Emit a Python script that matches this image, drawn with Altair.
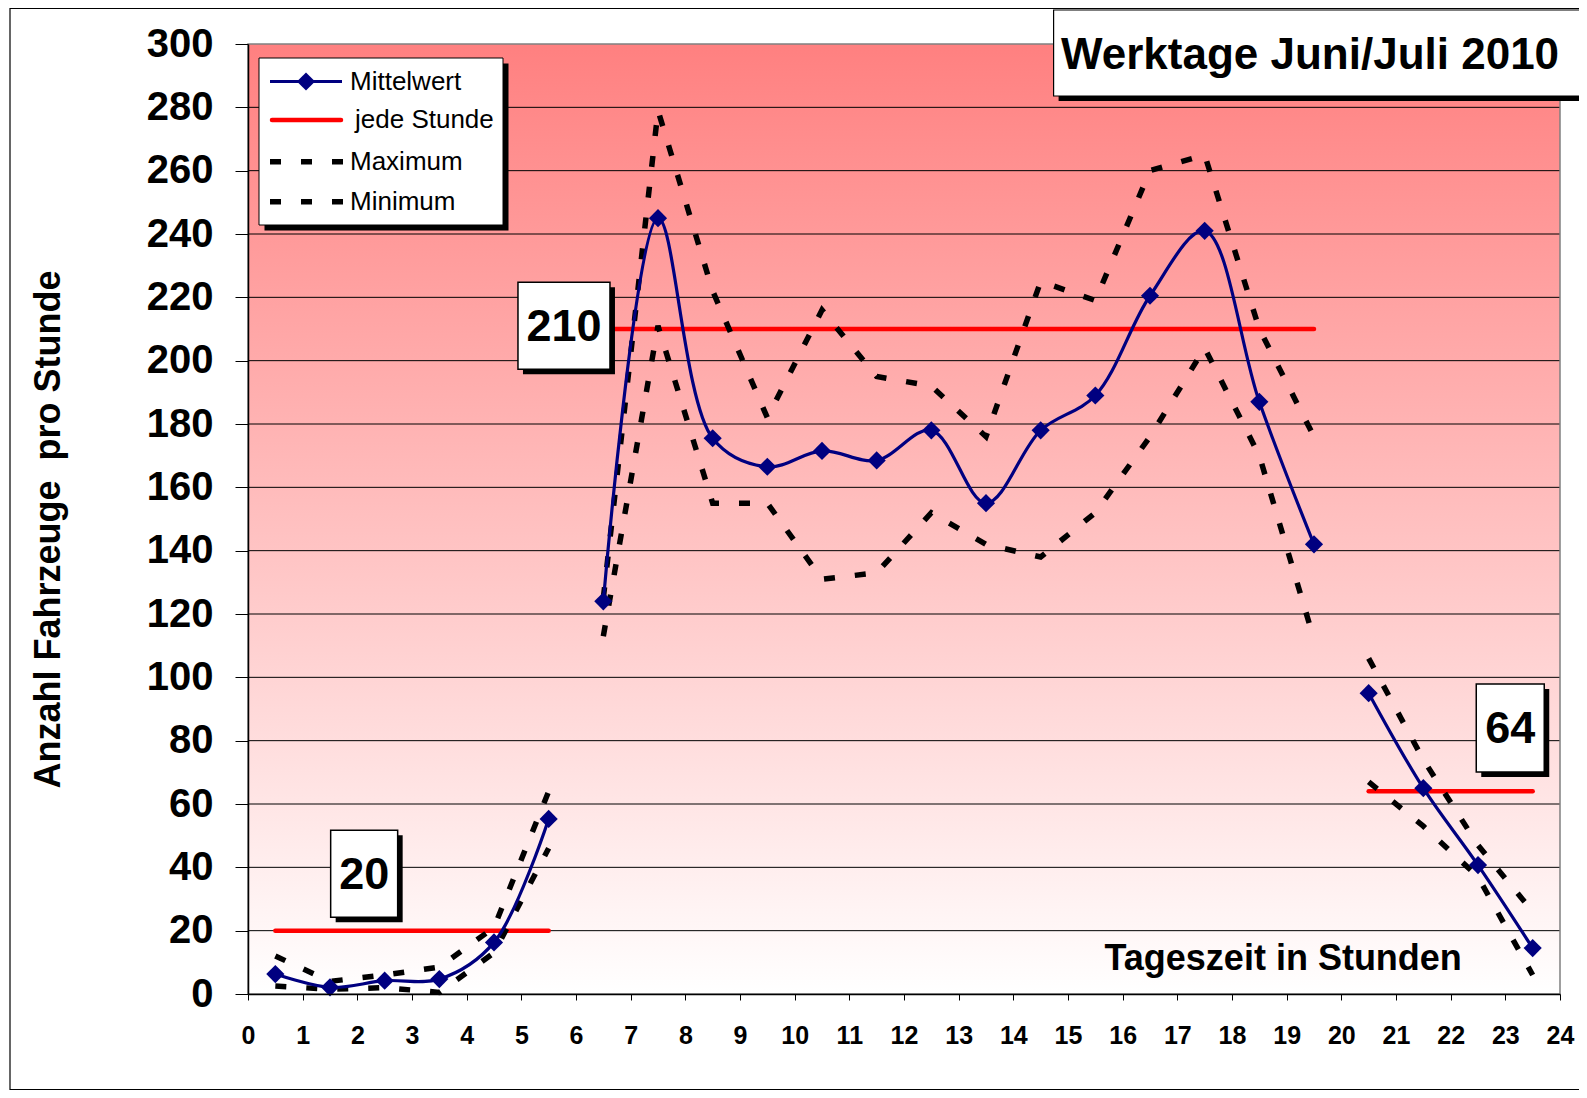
import altair as alt
import pandas as pd

# ---------------- data ----------------
hours = [0.5, 1.5, 2.5, 3.5, 4.5, 5.5, 6.5, 7.5, 8.5, 9.5, 10.5, 11.5,
         12.5, 13.5, 14.5, 15.5, 16.5, 17.5, 18.5, 19.5, 20.5, 21.5, 22.5, 23.5]
segments = [1, 1, 1, 1, 1, 1,
            2, 2, 2, 2, 2, 2, 2, 2, 2, 2, 2, 2, 2, 2,
            3, 3, 3, 3]
mean_values = [6.3, 2.1, 4.2, 4.7, 16.3, 55.3, 124, 245, 175.5, 166.5, 171.5, 168.5,
               178, 155, 178, 189, 220.5, 241, 187, 142, 95, 65, 40.7, 14.5]
max_values = [12, 4, 6, 8.5, 21, 64, 125, 279, 222, 182, 216, 195,
              192, 176, 225, 219, 260, 265, 210, 176, 106, 74, 47, 26]
min_values = [2.5, 1.5, 2, 0.5, 13, 46, 113, 211, 155, 155, 131, 133,
              152, 142, 138, 152, 176, 204, 170, 112, 67, 53, 37, 6]

avg_values = [20, 210, 64]
avg_start = [0.5, 6.5, 20.5]
avg_end = [5.5, 19.5, 23.5]
label_hours = [2.125, 5.78, 23.09]
label_values = [38, 211, 84]

y_ticks = [0, 20, 40, 60, 80, 100, 120, 140, 160, 180, 200, 220, 240, 260, 280, 300]
x_ticks = [0, 1, 2, 3, 4, 5, 6, 7, 8, 9, 10, 11, 12, 13, 14, 15, 16, 17, 18, 19, 20, 21, 22, 23, 24]
legend_labels = ["Mittelwert", "jede Stunde", "Maximum", "Minimum"]
title_text = "Werktage Juni/Juli 2010"
x_title = "Tageszeit in Stunden"
y_title = "Anzahl Fahrzeuge\u00a0 pro Stunde"

# ---------------- styling / layout ----------------
W, H = 1312, 950
FONT = "Liberation Sans"
NAVY = "#000080"
RED = "#FF0000"
DASH = [11, 20]
DIAMOND = 330
MEAN_W = 3.2

df = pd.DataFrame({"hour": hours, "seg": segments, "mean": mean_values,
                   "max": max_values, "min": min_values})
avg_df = pd.DataFrame({"start": avg_start, "end": avg_end, "v": avg_values})
grid_df = pd.DataFrame({"v": y_ticks[1:-1]})
one = pd.DataFrame({"k": [0]})

xs = alt.Scale(domain=[0, 24], nice=False, zero=False)
ys = alt.Scale(domain=[0, 300], nice=False)

x_axis = alt.Axis(values=x_ticks, title=x_title, grid=False, zindex=1,
                  labelFont=FONT, labelFontSize=25, labelFontWeight="bold", labelColor="black",
                  labelPadding=23, labelFlush=False, labelOverlap=False,
                  tickSize=6, tickColor="black", domainColor="black", domainWidth=1.5,
                  titleFont=FONT, titleFontSize=36, titleFontWeight="bold", titleColor="black",
                  titleX=856, titleY=-25, titleAlign="left", titleBaseline="alphabetic")
y_axis = alt.Axis(values=y_ticks, title=y_title, grid=False, zindex=1,
                  labelFont=FONT, labelFontSize=40, labelFontWeight="bold", labelColor="black",
                  labelPadding=22, labelFlush=False, labelOverlap=False,
                  tickSize=13, tickColor="black", domainColor="black", domainWidth=1.5,
                  titleFont=FONT, titleFontSize=36, titleFontWeight="bold", titleColor="black",
                  titleX=-200, titleY=485, titleAngle=270, titleAlign="center",
                  titleBaseline="middle")


def X(field):
    return alt.X(f"{field}:Q", scale=xs, axis=x_axis)


def Y(field):
    return alt.Y(f"{field}:Q", scale=ys, axis=y_axis)


def box(x1, x2, y1, y2, fill, stroke=None, sw=0):
    kw = dict(fill=fill, opacity=1)
    if stroke:
        kw.update(stroke=stroke, strokeWidth=sw)
    else:
        kw.update(strokeWidth=0)
    return alt.Chart(one).mark_rect(**kw).encode(
        x=alt.value(x1), x2=alt.value(x2), y=alt.value(y1), y2=alt.value(y2))


layers = []

# outer frame
layers.append(alt.Chart(one).mark_rect(fill="white", fillOpacity=0, stroke="black", strokeWidth=1.2).encode(
    x=alt.value(-238), x2=alt.value(1345), y=alt.value(-35.5), y2=alt.value(1045.5)))

# gradient plot background
grad = alt.LinearGradient(gradient="linear",
                          stops=[alt.GradientStop(color="#FF8080", offset=0),
                                 alt.GradientStop(color="#FFFFFF", offset=1)],
                          x1=0, x2=0, y1=0, y2=1)
layers.append(alt.Chart(one).mark_rect(fill=grad, strokeWidth=0).encode(
    x=alt.value(0), x2=alt.value(W), y=alt.value(0), y2=alt.value(H)))

# gridlines
layers.append(alt.Chart(grid_df).mark_rule(color="black", strokeWidth=1).encode(y=Y("v")))

# plot border
layers.append(alt.Chart(one).mark_rect(fill="white", fillOpacity=0, stroke="#808080", strokeWidth=1.5).encode(
    x=alt.value(0), x2=alt.value(W), y=alt.value(0), y2=alt.value(H)))

# hourly averages (red)
layers.append(alt.Chart(avg_df).mark_rule(color=RED, strokeWidth=4.5, strokeCap="round").encode(
    x=X("start"), x2="end:Q", y=Y("v")))

# maximum / minimum dotted lines
for col in ["max", "min"]:
    layers.append(alt.Chart(df).mark_line(color="black", strokeWidth=5.5, strokeDash=DASH).encode(
        x=X("hour"), y=Y(col), detail="seg:N"))

# mean line and diamonds
layers.append(alt.Chart(df).mark_line(color=NAVY, strokeWidth=MEAN_W, interpolate="catmull-rom").encode(
    x=X("hour"), y=Y("mean"), detail="seg:N"))
layers.append(alt.Chart(df).mark_point(shape="diamond", filled=True, size=DIAMOND, color=NAVY, opacity=1).encode(
    x=X("hour"), y=Y("mean")))

# value label boxes
box_sizes = [(67, 87), (92, 87), (68, 88)]
for i in range(3):
    d = pd.DataFrame({"hour": [label_hours[i]], "value": [label_values[i]],
                      "label": [str(avg_values[i])]})
    w, h = box_sizes[i]
    side = max(w, h)
    a, b = w / side, h / side
    path = f"M{-a:.4f},{-b:.4f}H{a:.4f}V{b:.4f}H{-a:.4f}Z"
    layers.append(alt.Chart(d).mark_point(shape=path, size=side * side, filled=True, fill="black",
                                          opacity=1, strokeWidth=0, xOffset=5, yOffset=5).encode(
        x=X("hour"), y=Y("value")))
    layers.append(alt.Chart(d).mark_point(shape=path, size=side * side, filled=True, fill="white",
                                          stroke="black", strokeWidth=1.5, opacity=1).encode(
        x=X("hour"), y=Y("value")))
    layers.append(alt.Chart(d).mark_text(font=FONT, fontSize=45, fontWeight="bold", color="black",
                                         align="center", baseline="middle", dy=1).encode(
        x=X("hour"), y=Y("value"), text="label:N"))

# legend
layers.append(box(16.5, 260.5, 19.5, 186.5, "black"))
layers.append(box(11, 255, 14, 181, "white", "black", 1))
row_y = [37.5, 76, 117.7, 157.7]
layers.append(alt.Chart(one).mark_rule(color=NAVY, strokeWidth=MEAN_W).encode(
    x=alt.value(22), x2=alt.value(94), y=alt.value(row_y[0])))
layers.append(alt.Chart(one).mark_point(shape="diamond", filled=True, size=DIAMOND, color=NAVY, opacity=1).encode(
    x=alt.value(58), y=alt.value(row_y[0])))
layers.append(alt.Chart(one).mark_rule(color=RED, strokeWidth=4.5, strokeCap="round").encode(
    x=alt.value(24), x2=alt.value(93), y=alt.value(row_y[1])))
for ry in row_y[2:]:
    layers.append(alt.Chart(one).mark_rule(color="black", strokeWidth=5.5, strokeDash=DASH).encode(
        x=alt.value(22), x2=alt.value(95), y=alt.value(ry)))
text_x = [102, 107, 102, 102]
for lab, tx, ry in zip(legend_labels, text_x, row_y):
    layers.append(alt.Chart(one).mark_text(text=lab, font=FONT, fontSize=26, color="black",
                                           align="left", baseline="middle").encode(
        x=alt.value(tx), y=alt.value(ry)))

# title box
layers.append(box(810.6, 1500, -29, 57, "black"))
layers.append(box(805.6, 1500, -34, 52, "white", "black", 1.2))
layers.append(alt.Chart(one).mark_text(text=title_text, font=FONT, fontSize=44, fontWeight="bold",
                                       color="black", align="left", baseline="alphabetic").encode(
    x=alt.value(813), y=alt.value(25)))

chart = alt.layer(*layers).properties(
    width=W, height=H,
    autosize=alt.AutoSizeParams(type="none"),
    padding={"left": 240, "top": 36, "right": 19, "bottom": 96},
    background="white",
).configure_view(stroke=None)

chart.save("out.html", embed_options={"renderer": "svg", "actions": False})
